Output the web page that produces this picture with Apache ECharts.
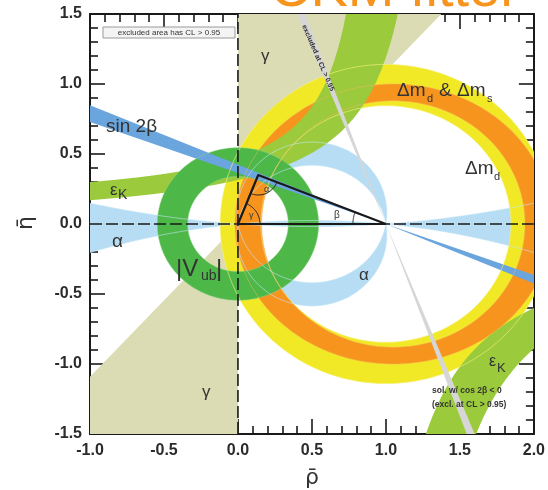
<!DOCTYPE html>
<html>
<head>
<meta charset="utf-8">
<script src="https://cdn.jsdelivr.net/npm/echarts@6/dist/echarts.min.js"></script>
<style>
html, body { margin: 0; padding: 0; background: #fff; }
#chart { width: 548px; height: 490px; }
</style>
</head>
<body>
<div id="chart"></div>
<script>
// ---------- axes ----------
const rhoRange = [-1.0, 2.0];
const etaRange = [-1.5, 1.5];
const tickStep = 0.5;

// ---------- constraint regions in the (rho, eta) plane ----------
const gammaWedgeDeg = [47.5, 90];        // gamma: rays from (0,0), plus the mirrored solution
const sin2betaDeg = [20, 23];            // beta from sin 2beta: rays from (1,0)
const cos2betaExclDeg = [68.2, 70.0];    // second sin 2beta solution (cos 2beta < 0)
const alphaRingDeg = [81, 100];          // alpha close to 90 degrees
const alphaAxisH = [6.8, -5.0];          // alpha close to 0/180: circle centres (0.5, h)
const vubCentre = [0, 0];
const vubRadii = [0.34, 0.545];
const dmdCentre = [1, 0];
const dmdRadiiRho = [0.845, 1.12];
const dmdRadiiEta = [0.845, 1.14];
const dmsCentre = [1.05, 0];
const dmsRadiiRho = [0.89, 1.07];
const dmsRadiiEta = [0.88, 1.0];
// epsilon_K edges, eta = d + k / (c - rho), given as [d, k, c]
const ekUpperEdges = [[0.128, 0.3396, 0.9776], [-0.032, 0.4836, 1.3957]];
const ekLowerEdges = [[0, 0.7305, 0.783], [0, 0.855, 1.04]];
// best-fit apex of the unitarity triangle
const apex = [0.137, 0.35];

const colors = {
  gamma: '#dcdcb4', alpha: '#b6ddf3', vub: '#4db848', dmd: '#f1e925',
  dms: '#f6941e', ek: '#9bcb3d', s2b: '#6aa5dd', excl: '#d6d6d6'
};

// ---------- geometry helpers ----------
const N = 240;
const D2R = Math.PI / 180;

function ellipse(c, rx, ry, reverse) {
  const pts = [];
  for (let i = 0; i <= N; i++) {
    const t = 2 * Math.PI * i / N;
    pts.push([c[0] + rx * Math.cos(t), c[1] + ry * Math.sin(t)]);
  }
  return reverse ? pts.reverse() : pts;
}
function ring(c, rRho, rEta) {
  return [ellipse(c, rRho[1], rEta[1], false), ellipse(c, rRho[0], rEta[0], true)];
}
function wedge(o, degs, mirrored) {
  const L = 6;
  const ray = a => [o[0] + L * Math.cos(a * D2R), o[1] + L * Math.sin(a * D2R)];
  const loops = [[o, ray(degs[0]), ray(degs[1])]];
  if (mirrored) loops.push([o, ray(degs[0] + 180), ray(degs[1] + 180)]);
  return loops;
}
// arc of points seeing the segment (0,0)-(1,0) under the angle alpha, above the axis
function alphaArc(alphaDeg) {
  const h = 0.5 / Math.tan(alphaDeg * D2R);
  const R = Math.hypot(0.5, h);
  const a1 = Math.atan2(-h, 0.5);
  let a2 = Math.atan2(-h, -0.5);
  if (a2 < a1) a2 += 2 * Math.PI;
  const pts = [];
  for (let i = 0; i <= N; i++) {
    const t = a1 + (a2 - a1) * i / N;
    pts.push([0.5 + R * Math.cos(t), h + R * Math.sin(t)]);
  }
  return pts;
}
function alphaLoop(alphaDeg) {
  const up = alphaArc(alphaDeg);
  const down = up.map(p => [p[0], -p[1]]).reverse();
  return up.concat(down);
}
function alphaAxisEdge(h, rho) {
  const q = rho * rho - rho;
  return h > 0 ? h - Math.sqrt(h * h - q) : h + Math.sqrt(h * h - q);
}
function alphaAxisEdgePts(h) {
  const pts = [];
  for (let i = 0; i <= 620; i++) {
    const rho = -1.1 + 3.2 * i / 620;
    pts.push([rho, alphaAxisEdge(h, rho)]);
  }
  return pts;
}
function alphaAxisBand() {
  return [alphaAxisEdgePts(alphaAxisH[0]).concat(alphaAxisEdgePts(alphaAxisH[1]).reverse())];
}
function hyp(e, rho) { return e[0] + e[1] / (e[2] - rho); }
function hypRhoAt(e, eta) { return e[2] - e[1] / (eta - e[0]); }
function sampleEdge(e, r0, r1) {
  const pts = [];
  for (let i = 0; i <= 400; i++) {
    const rho = r0 + (r1 - r0) * i / 400;
    pts.push([rho, hyp(e, rho)]);
  }
  return pts;
}
function ekUpper() {
  const [a, b] = ekUpperEdges;
  const top = 1.6;
  return [sampleEdge(a, -1.1, hypRhoAt(a, top)).concat(sampleEdge(b, hypRhoAt(b, top), -1.1))];
}
function ekLower() {
  const [l, r] = ekLowerEdges;
  const bot = -1.6;
  return [sampleEdge(l, hypRhoAt(l, bot), 2.1).concat(sampleEdge(r, 2.1, hypRhoAt(r, bot)))];
}

function toPath(loops, api, close) {
  return loops.map(loop => loop.map((p, i) => {
    const c = api.coord(p);
    return (i ? 'L' : 'M') + c[0].toFixed(2) + ' ' + c[1].toFixed(2);
  }).join(' ') + (close === false ? '' : ' Z')).join(' ');
}

function region(name, loopsFn, fill, z) {
  return {
    name: name, type: 'custom', coordinateSystem: 'cartesian2d',
    data: [[0, 0]], clip: true, silent: true, z: z || 2,
    renderItem: function (params, api) {
      return { type: 'path', shape: { pathData: toPath(loopsFn(), api) },
               style: { fill: fill, stroke: null } };
    }
  };
}

// faint outlines of the constraint contours, drawn over the filled areas
function outline(name, loopsFn, stroke, opacity) {
  return {
    name: name, type: 'custom', coordinateSystem: 'cartesian2d',
    data: [[0, 0]], clip: true, silent: true, z: 5,
    renderItem: function (params, api) {
      return { type: 'path', shape: { pathData: toPath(loopsFn(), api, false) },
               style: { fill: null, stroke: stroke, lineWidth: 0.8, opacity: opacity } };
    }
  };
}

function arcPts(c, r, a0, a1) {
  const pts = [];
  for (let i = 0; i <= 30; i++) {
    const t = a0 + (a1 - a0) * i / 30;
    pts.push([c[0] + r * Math.cos(t), c[1] + r * Math.sin(t)]);
  }
  return pts;
}

// angle markers of the triangle
const angleMarks = {
  name: 'angles', type: 'custom', coordinateSystem: 'cartesian2d',
  data: [[0, 0]], silent: true, z: 7,
  renderItem: function (params, api) {
    const O = api.coord([0, 0]), B = api.coord([1, 0]), A = api.coord(apex);
    const ang = (p, q) => Math.atan2(q[1] - p[1], q[0] - p[0]);
    let aB = ang(B, A); if (aB < Math.PI) aB += 2 * Math.PI;
    const arcs = [
      arcPts(O, 22, ang(O, A), 0),
      arcPts(A, 20, ang(A, B), ang(A, O)),
      arcPts(B, 33, Math.PI, aB)
    ];
    return { type: 'group', children: arcs.map(p => ({
      type: 'polyline', shape: { points: p },
      style: { stroke: '#222', lineWidth: 1, fill: null }
    })) };
  }
};

const fmt = v => v.toFixed(1);
const labelFont = { fontFamily: 'Liberation Sans', fontWeight: 'bold', fontSize: 16, color: '#2b2b2b' };

function axisCommon(extra) {
  return Object.assign({
    type: 'value', splitLine: { show: false },
    axisLine: { show: true, onZero: false, lineStyle: { color: '#1a1a1a', width: 2 } },
    axisTick: { show: true, inside: true, length: 15, lineStyle: { color: '#1a1a1a', width: 1.6 } },
    minorTick: { show: true, splitNumber: 5, length: 8, lineStyle: { color: '#1a1a1a', width: 1.6 } },
    minorSplitLine: { show: false }
  }, extra);
}

function txt(x, y, text, font, extra) {
  return Object.assign({ type: 'text', x: x, y: y, z: 10,
    style: { text: text, font: font, fill: '#333', verticalAlign: 'middle' } }, extra || {});
}
const F = s => s + 'px "Liberation Sans"';

const chart = echarts.init(document.getElementById('chart'), null, { renderer: 'canvas' });
chart.setOption({
  animation: false,
  backgroundColor: '#ffffff',
  grid: { left: 90, right: 12, top: 14, bottom: 56 },
  xAxis: [
    axisCommon({ min: rhoRange[0], max: rhoRange[1], interval: tickStep, position: 'bottom',
      axisLabel: Object.assign({ formatter: fmt, margin: 9 }, labelFont) }),
    axisCommon({ min: rhoRange[0], max: rhoRange[1], interval: tickStep, position: 'top',
      axisLabel: { show: false } })
  ],
  yAxis: [
    axisCommon({ min: etaRange[0], max: etaRange[1], interval: tickStep, position: 'left',
      axisLabel: Object.assign({ formatter: fmt, margin: 8 }, labelFont) }),
    axisCommon({ min: etaRange[0], max: etaRange[1], interval: tickStep, position: 'right',
      axisLabel: { show: false } })
  ],
  series: [
    region('gamma', () => wedge([0, 0], gammaWedgeDeg, true), colors.gamma, 1),
    region('alpha (near 0)', alphaAxisBand, colors.alpha, 2),
    region('alpha (near 90)', () => [alphaLoop(alphaRingDeg[0]), alphaLoop(alphaRingDeg[1]).reverse()], colors.alpha, 2),
    region('dmd', () => ring(dmdCentre, dmdRadiiRho, dmdRadiiEta), colors.dmd, 3),
    region('dmd & dms', () => ring(dmsCentre, dmsRadiiRho, dmsRadiiEta), colors.dms, 3),
    region('epsK upper', ekUpper, colors.ek, 3),
    region('epsK lower', ekLower, colors.ek, 3),
    region('|Vub|', () => ring(vubCentre, vubRadii, vubRadii), colors.vub, 4),
    region('sin2beta', () => wedge([1, 0], [180 - sin2betaDeg[1], 180 - sin2betaDeg[0]], true), colors.s2b, 4),
    outline('dmd contour', () => ring(dmdCentre, dmdRadiiRho, dmdRadiiEta), '#f6f07a', 0.8),
    outline('dms contour', () => ring(dmsCentre, dmsRadiiRho, dmsRadiiEta), '#f7b060', 0.6),
    outline('alpha contour', () => [alphaLoop(alphaRingDeg[0]), alphaLoop(alphaRingDeg[1]),
      alphaAxisEdgePts(alphaAxisH[0]), alphaAxisEdgePts(alphaAxisH[1])], '#c4e6f7', 0.8),
    outline('vub contour', () => ring(vubCentre, vubRadii, vubRadii), '#8fd08a', 0.6),
    region('cos2beta<0', () => wedge([1, 0], [180 - cos2betaExclDeg[1], 180 - cos2betaExclDeg[0]], true), colors.excl, 5),
    {
      name: 'rho axis', type: 'line', data: [[rhoRange[0], 0], [rhoRange[1], 0]], symbol: 'none', z: 6,
      silent: true, lineStyle: { color: '#1a1a1a', width: 1.6, type: [12, 4] }
    },
    {
      name: 'eta axis', type: 'line', data: [[0, etaRange[0]], [0, etaRange[1]]], symbol: 'none', z: 6,
      silent: true, lineStyle: { color: '#1a1a1a', width: 1.6, type: [12, 4] }
    },
    {
      name: 'triangle', type: 'line', data: [[1, 0], [0, 0], apex, [1, 0]], symbol: 'none', z: 7,
      silent: true, lineStyle: { color: '#1a1a1a', width: 2.2 }
    },
    angleMarks
  ],
  graphic: { elements: [
    // header
    { type: 'text', x: 270, y: 19, z: 10, style: { text: 'CKM fitter', font: '56px "Liberation Sans"', fill: '#f7941d', verticalAlign: 'bottom' } },
    // axis titles
    { type: 'text', x: 26, y: 223, rotation: Math.PI / 2, z: 10,
      style: { text: '\u03B7\u0304', font: '22px "DejaVu Sans"', fill: '#333', align: 'center', verticalAlign: 'middle' } },
    { type: 'text', x: 312, y: 478, z: 10,
      style: { text: '\u03C1\u0304', font: '22px "DejaVu Sans"', fill: '#333', align: 'center', verticalAlign: 'middle' } },
    // legend box
    { type: 'rect', shape: { x: 103, y: 27, width: 132, height: 11 }, z: 10,
      style: { fill: '#f4f4f4', stroke: '#9a9a9a', lineWidth: 1 } },
    { type: 'text', x: 169, y: 32.5, z: 11,
      style: { text: 'excluded area has CL > 0.95', font: '8px "Liberation Sans"', fill: '#333', align: 'center', verticalAlign: 'middle' } },
    // constraint labels
    txt(106, 127, 'sin 2\u03B2', F(19)),
    txt(110, 190, '\u03B5', F(17)),
    txt(118, 195, 'K', F(14)),
    txt(112, 242, '\u03B1', F(19)),
    txt(176, 269, '|V', F(24)),
    txt(201, 276, 'ub', F(14)),
    txt(216, 269, '|', F(24)),
    txt(359, 275, '\u03B1', F(17)),
    txt(397, 91, '\u0394m', F(19)),
    txt(427, 99, 'd', F(11)),
    txt(439, 91, '&', F(19)),
    txt(457, 91, '\u0394m', F(19)),
    txt(487, 99, 's', F(11)),
    txt(465, 169, '\u0394m', F(19)),
    txt(494, 177, 'd', F(11)),
    txt(489, 362, '\u03B5', F(16)),
    txt(497, 368, 'K', F(13)),
    txt(261, 56, '\u03B3', F(17)),
    txt(202, 392, '\u03B3', F(17)),
    txt(432, 391, 'sol. w/ cos 2\u03B2 < 0', 'bold 8.5px "Liberation Sans"'),
    txt(432, 405, '(excl. at CL > 0.95)', 'bold 8.5px "Liberation Sans"'),
    { type: 'text', x: 318, y: 58, rotation: -1.16, z: 10,
      style: { text: 'excluded at CL > 0.95', font: 'bold 7px "Liberation Sans"', fill: '#333', align: 'center', verticalAlign: 'middle' } },
    // triangle angle labels
    txt(264, 190, '\u03B1', F(9)),
    txt(249, 216, '\u03B3', F(9)),
    txt(334, 215, '\u03B2', F(10))
  ] }
});
</script>
</body>
</html>
